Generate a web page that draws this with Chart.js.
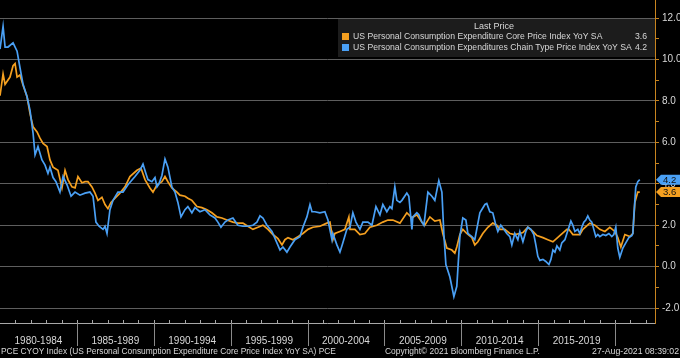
<!DOCTYPE html>
<html>
<head>
<meta charset="utf-8">
<script src="https://cdn.jsdelivr.net/npm/chart.js@4.4.1/dist/chart.umd.min.js"></script>
<style>
  html, body { margin: 0; padding: 0; background: #000; }
  #wrap { position: relative; width: 680px; height: 358px; }
</style>
</head>
<body>
<div id="wrap"><canvas id="pceChart" width="680" height="358"></canvas></div>
<script>
// values (dates as decimal years)
const coreDates = [1980.00, 1980.20, 1980.33, 1980.65, 1980.85, 1980.98, 1981.11, 1981.30, 1981.50, 1981.76,
  1981.95, 1982.15, 1982.41, 1982.60, 1982.80, 1983.06, 1983.25, 1983.45, 1983.77, 1984.03,
  1984.23, 1984.42, 1984.68, 1984.88, 1985.07, 1985.33, 1985.53, 1985.72, 1985.98, 1986.18,
  1986.37, 1986.63, 1986.83, 1987.02, 1987.22, 1987.48, 1987.80, 1988.13, 1988.45, 1988.91,
  1989.17, 1989.43, 1989.75, 1989.95, 1990.21, 1990.53, 1990.73, 1990.92, 1991.18, 1991.51,
  1991.70, 1992.03, 1992.22, 1992.48, 1992.81, 1993.13, 1993.46, 1993.78, 1994.11, 1994.43,
  1994.76, 1995.15, 1995.47, 1995.80, 1996.12, 1996.45, 1996.78, 1997.10, 1997.43, 1997.75,
  1998.08, 1998.34, 1998.53, 1998.73, 1999.05, 1999.38, 1999.70, 2000.03, 2000.35, 2000.81,
  2001.26, 2001.46, 2001.65, 2001.78, 2002.11, 2002.43, 2002.69, 2002.76, 2003.08, 2003.41,
  2003.73, 2004.06, 2004.51, 2004.90, 2005.23, 2005.55, 2006.01, 2006.46, 2006.79, 2007.11,
  2007.44, 2007.63, 2007.96, 2008.28, 2008.61, 2008.80, 2009.06, 2009.39, 2009.58, 2009.71,
  2009.91, 2010.10, 2010.36, 2010.69, 2010.88, 2011.08, 2011.40, 2011.73, 2012.05, 2012.31,
  2012.51, 2012.83, 2013.16, 2013.48, 2013.81, 2014.01, 2014.33, 2014.66, 2014.92, 2015.31,
  2015.63, 2015.96, 2016.41, 2016.87, 2017.00, 2017.26, 2017.71, 2017.91, 2018.36, 2018.69,
  2019.01, 2019.34, 2019.66, 2019.99, 2020.18, 2020.38, 2020.64, 2020.96, 2021.16, 2021.29,
  2021.48, 2021.61];
const coreValues = [8.25, 9.3, 8.8, 9.15, 9.7, 9.8, 9.15, 9.25, 8.75, 8.2,
  7.4, 6.75, 6.5, 6.2, 5.95, 5.8, 5.15, 4.8, 4.65, 3.8,
  4.65, 4.2, 3.85, 3.8, 4.35, 4.05, 4.1, 4.1, 3.85, 3.55,
  3.2, 3.35, 3.0, 2.8, 3.1, 3.3, 3.55, 3.85, 4.35, 4.65,
  4.75, 4.2, 3.8, 3.6, 3.95, 4.1, 4.35, 4.1, 3.8, 3.6,
  3.45, 3.4, 3.3, 3.2, 2.9, 2.85, 2.75, 2.6, 2.4, 2.35,
  2.25, 2.15, 2.1, 2.1, 1.95, 1.8, 1.9, 2.0, 1.8, 1.55,
  1.35, 1.05, 1.3, 1.4, 1.3, 1.45, 1.6, 1.8, 1.9, 1.95,
  2.1, 2.15, 1.3, 1.6, 1.7, 1.8, 2.4, 1.8, 1.8, 1.55,
  1.6, 1.9, 2.0, 2.15, 2.25, 2.25, 2.1, 2.6, 2.35, 2.5,
  2.15, 2.0, 2.4, 2.2, 2.25, 1.6, 0.9, 0.8, 0.65, 0.95,
  1.55, 1.8, 1.6, 1.4, 1.05, 1.2, 1.6, 1.9, 2.1, 2.0,
  1.8, 1.8, 1.6, 1.55, 1.6, 1.65, 1.9, 1.7, 1.5, 1.4,
  1.3, 1.2, 1.5, 1.8, 1.8, 1.55, 1.55, 1.8, 2.1, 2.0,
  1.8, 1.7, 1.9, 1.7, 1.4, 0.95, 1.55, 1.45, 1.6, 3.1,
  3.6, 3.6];

const pceDates = [1980.00, 1980.20, 1980.33, 1980.52, 1980.85, 1981.11, 1981.30, 1981.50, 1981.76, 1981.95,
  1982.15, 1982.28, 1982.47, 1982.73, 1982.93, 1983.12, 1983.25, 1983.45, 1983.64, 1983.90,
  1984.10, 1984.36, 1984.62, 1984.88, 1985.20, 1985.53, 1985.85, 1986.05, 1986.24, 1986.44,
  1986.70, 1986.83, 1986.96, 1987.15, 1987.35, 1987.67, 1988.00, 1988.32, 1988.78, 1989.10,
  1989.30, 1989.49, 1989.62, 1989.88, 1990.08, 1990.21, 1990.34, 1990.53, 1990.73, 1990.92,
  1991.18, 1991.38, 1991.57, 1991.77, 1992.03, 1992.22, 1992.48, 1992.68, 1993.00, 1993.33,
  1993.65, 1993.98, 1994.17, 1994.37, 1994.63, 1994.82, 1995.15, 1995.47, 1995.80, 1996.12,
  1996.45, 1996.71, 1996.91, 1997.10, 1997.36, 1997.69, 1998.01, 1998.21, 1998.40, 1998.66,
  1998.86, 1999.18, 1999.51, 1999.70, 1999.96, 2000.16, 2000.29, 2000.48, 2000.81, 2001.13,
  2001.33, 2001.59, 2001.65, 2001.91, 2002.11, 2002.30, 2002.56, 2002.76, 2002.95, 2003.15,
  2003.41, 2003.60, 2003.93, 2004.19, 2004.45, 2004.71, 2004.90, 2005.16, 2005.36, 2005.49,
  2005.68, 2005.81, 2006.01, 2006.14, 2006.46, 2006.59, 2006.79, 2006.85, 2007.11, 2007.24,
  2007.44, 2007.57, 2007.83, 2008.09, 2008.28, 2008.54, 2008.74, 2008.87, 2009.00, 2009.26,
  2009.52, 2009.71, 2009.91, 2010.10, 2010.30, 2010.43, 2010.69, 2010.88, 2011.21, 2011.54,
  2011.66, 2011.86, 2012.05, 2012.25, 2012.38, 2012.57, 2012.77, 2012.96, 2013.16, 2013.29,
  2013.48, 2013.68, 2013.81, 2014.01, 2014.20, 2014.33, 2014.53, 2014.72, 2014.85, 2014.98,
  2015.11, 2015.31, 2015.50, 2015.70, 2015.83, 2015.96, 2016.09, 2016.22, 2016.41, 2016.54,
  2016.74, 2016.87, 2017.00, 2017.13, 2017.26, 2017.39, 2017.58, 2017.71, 2017.84, 2017.97,
  2018.10, 2018.23, 2018.36, 2018.49, 2018.62, 2018.75, 2018.88, 2019.01, 2019.21, 2019.40,
  2019.60, 2019.79, 2019.92, 2020.05, 2020.18, 2020.31, 2020.51, 2020.70, 2020.90, 2021.09,
  2021.16, 2021.22, 2021.35, 2021.48, 2021.61];
const pceValues = [10.5, 11.6, 10.6, 10.6, 10.8, 10.4, 9.6, 8.8, 8.2, 7.55,
  6.45, 5.4, 5.8, 5.15, 4.9, 4.5, 4.8, 4.3, 4.1, 3.6,
  4.35, 3.95, 3.4, 3.6, 3.45, 3.55, 3.6, 3.4, 2.15, 1.95,
  1.8, 1.95, 1.6, 2.75, 3.2, 3.6, 3.6, 3.95, 4.35, 4.65,
  4.95, 4.5, 4.2, 4.1, 4.3, 3.85, 4.0, 4.4, 5.2, 4.8,
  3.85, 3.6, 3.1, 2.4, 2.75, 2.9, 2.6, 2.85, 2.65, 2.75,
  2.5, 2.35, 2.15, 1.9, 2.15, 2.25, 2.35, 2.0, 1.95, 1.95,
  2.0, 2.15, 2.45, 2.35, 2.0, 1.7, 1.15, 0.8, 0.95, 0.7,
  0.95, 1.3, 1.45, 1.9, 2.4, 3.0, 2.65, 2.65, 2.6, 2.65,
  2.25, 1.3, 1.6, 1.05, 0.7, 1.15, 1.8, 1.9, 2.6, 2.15,
  1.8, 2.15, 2.15, 2.0, 2.9, 2.5, 3.0, 2.65, 2.9, 2.8,
  3.85, 3.2, 3.1, 3.2, 3.55, 3.4, 1.8, 2.4, 2.6, 2.5,
  2.15, 2.0, 3.6, 3.4, 3.2, 4.15, 3.6, 1.55, 0.1, -0.5,
  -1.45, -0.95, 1.45, 2.35, 2.25, 1.6, 1.45, 1.3, 2.6, 3.0,
  3.05, 2.65, 2.6, 2.0, 1.7, 2.0, 1.8, 1.6, 1.45, 1.05,
  1.6, 1.3, 1.7, 1.2, 1.7, 1.9, 1.8, 1.55, 1.05, 0.5,
  0.3, 0.35, 0.25, 0.1, 0.35, 0.8, 0.7, 1.0, 0.8, 1.15,
  1.3, 1.6, 1.9, 2.2, 2.0, 1.7, 1.8, 1.6, 1.9, 2.15,
  2.25, 2.45, 2.25, 2.15, 1.8, 1.45, 1.55, 1.45, 1.55, 1.5,
  1.6, 1.45, 1.55, 1.9, 0.9, 0.45, 0.9, 1.15, 1.4, 1.5,
  1.6, 2.4, 3.85, 4.1, 4.2];

const seriesNames = [
  'US Personal Consumption Expenditure Core Price Index YoY SA',
  'US Personal Consumption Expenditures Chain Type Price Index YoY SA'
];
const lastPrices = ['3.6', '4.2'];
const periodLabels = ['1980-1984', '1985-1989', '1990-1994', '1995-1999', '2000-2004', '2005-2009', '2010-2014', '2015-2019'];
const periodCenters = [1982.5, 1987.5, 1992.5, 1997.5, 2002.5, 2007.5, 2012.5, 2017.5];
const periodBounds = [1985, 1990, 1995, 2000, 2005, 2010, 2015, 2020];
const yMajorTicks = [-2, 0, 2, 4, 6, 8, 10, 12];
const yMinorTicks = [-1, 1, 3, 5, 7, 9, 11];

const ORANGE = '#f5a020';
const BLUE = '#4aa0f5';
const AXIS = '#c8841f';
const TEXT = '#d8d8d8';
const FONT = "'Liberation Sans Narrow', 'Liberation Sans', Arial, sans-serif";

function fitFont(ctx, text, width, size) {
  ctx.font = size + 'px ' + FONT;
  const s = size * width / ctx.measureText(text).width;
  return s.toFixed(2) + 'px ' + FONT;
}

// axis decorations, legend box, price tags and footer like the terminal chart
const decor = {
  id: 'decor',
  afterDraw(chart) {
    const { ctx, chartArea: a, scales: { x, y } } = chart;
    ctx.save();

    // bottom axis
    ctx.strokeStyle = '#a8a8a8';
    ctx.lineWidth = 1;
    ctx.beginPath();
    ctx.moveTo(a.left, a.bottom + 0.5);
    ctx.lineTo(a.right, a.bottom + 0.5);
    for (let yr = 1981; yr <= 2022; yr++) {
      const px = Math.round(x.getPixelForValue(yr)) + 0.5;
      ctx.moveTo(px, a.bottom - 3);
      ctx.lineTo(px, a.bottom);
    }
    ctx.stroke();
    ctx.strokeStyle = '#8a8a8a';
    ctx.beginPath();
    periodBounds.forEach(yr => {
      const px = Math.round(x.getPixelForValue(yr)) + 0.5;
      ctx.moveTo(px, a.bottom);
      ctx.lineTo(px, a.bottom + 23);
    });
    ctx.stroke();

    // legend box
    const bx = 338, by = 19, bw = a.right - bx, bh = 38;
    ctx.fillStyle = '#1c1c1c';
    ctx.fillRect(bx, by, bw, bh);
    ctx.fillStyle = TEXT;
    ctx.textBaseline = 'middle';
    ctx.textAlign = 'center';
    ctx.font = fitFont(ctx, 'Last Price', 40, 10);
    ctx.fillText('Last Price', 494, 26.5);
    const rowFont = fitFont(ctx, seriesNames[1], 279, 10);
    [ORANGE, BLUE].forEach((c, i) => {
      const ry = 36.5 + i * 11;
      ctx.fillStyle = c;
      ctx.fillRect(342, ry - 3.5, 7, 7);
      ctx.fillStyle = TEXT;
      ctx.font = rowFont;
      ctx.textAlign = 'left';
      ctx.fillText(seriesNames[i], 353, ry);
      ctx.textAlign = 'right';
      ctx.fillText(lastPrices[i], 647, ry);
    });

    // last price tags on the axis
    [[coreValues, ORANGE, lastPrices[0]], [pceValues, BLUE, lastPrices[1]]].forEach(([vals, c, t]) => {
      const py = y.getPixelForValue(vals[vals.length - 1]);
      const x0 = a.right + 1;
      ctx.fillStyle = c;
      ctx.beginPath();
      ctx.moveTo(x0, py);
      ctx.lineTo(x0 + 5, py - 5);
      ctx.lineTo(680, py - 5);
      ctx.lineTo(680, py + 5);
      ctx.lineTo(x0 + 5, py + 5);
      ctx.closePath();
      ctx.fill();
      ctx.fillStyle = '#101010';
      ctx.textAlign = 'left';
      ctx.font = '9.5px ' + FONT;
      ctx.fillText(t, x0 + 7, py + 0.5);
    });

    // footer
    const foot1 = 'PCE CYOY Index (US Personal Consumption Expenditure Core Price Index YoY SA) PCE';
    const foot2 = 'Copyright\u00A9 2021 Bloomberg Finance L.P.';
    const foot3 = '27-Aug-2021 08:39:02';
    ctx.fillStyle = TEXT;
    ctx.textAlign = 'left';
    ctx.font = fitFont(ctx, foot1, 335, 10);
    ctx.fillText(foot1, 1, 352);
    ctx.font = fitFont(ctx, foot2, 155, 10);
    ctx.fillText(foot2, 385, 352);
    ctx.textAlign = 'right';
    ctx.font = fitFont(ctx, foot3, 87, 10);
    ctx.fillText(foot3, 679, 352);
    ctx.restore();
  }
};

new Chart(document.getElementById('pceChart'), {
  type: 'line',
  data: {
    datasets: [
      {
        label: seriesNames[0],
        data: coreDates.map((d, i) => ({ x: d, y: coreValues[i] })),
        borderColor: ORANGE,
        borderWidth: 1.7,
        pointRadius: 0,
        order: 1
      },
      {
        label: seriesNames[1],
        data: pceDates.map((d, i) => ({ x: d, y: pceValues[i] })),
        borderColor: BLUE,
        borderWidth: 1.7,
        pointRadius: 0,
        order: 0
      }
    ]
  },
  options: {
    responsive: false,
    animation: false,
    devicePixelRatio: 1,
    layout: { padding: 0 },
    plugins: {
      legend: { display: false },
      tooltip: { enabled: false }
    },
    scales: {
      x: {
        type: 'linear',
        min: 1980,
        max: 2022.6,
        grid: { display: false, drawTicks: false },
        border: { display: false },
        afterBuildTicks: axis => { axis.ticks = periodCenters.map(v => ({ value: v })); },
        afterFit: s => { s.height = 35; s.paddingLeft = 0; s.paddingRight = 0; },
        ticks: {
          autoSkip: false,
          maxRotation: 0,
          padding: 12,
          color: TEXT,
          font: { family: FONT, size: 10 },
          callback: (v, i) => periodLabels[i]
        }
      },
      y: {
        type: 'linear',
        position: 'right',
        min: -2.72,
        max: 12.87,
        afterBuildTicks: axis => {
          axis.ticks = yMajorTicks.concat(yMinorTicks).sort((p, q) => p - q).map(v => ({ value: v }));
        },
        afterFit: s => { s.width = 25; s.paddingTop = 0; s.paddingBottom = 0; },
        grid: {
          color: c => (c.tick && c.tick.value % 2 === 0) ? '#5e5e5e' : 'rgba(0,0,0,0)',
          tickColor: AXIS,
          tickLength: 4,
          lineWidth: 1
        },
        border: { color: AXIS, width: 1 },
        ticks: {
          autoSkip: false,
          padding: 3,
          color: TEXT,
          font: { family: FONT, size: 10 },
          callback: v => (v % 2 === 0 ? v.toFixed(1) : '')
        }
      }
    }
  },
  plugins: [decor]
});
</script>
</body>
</html>
